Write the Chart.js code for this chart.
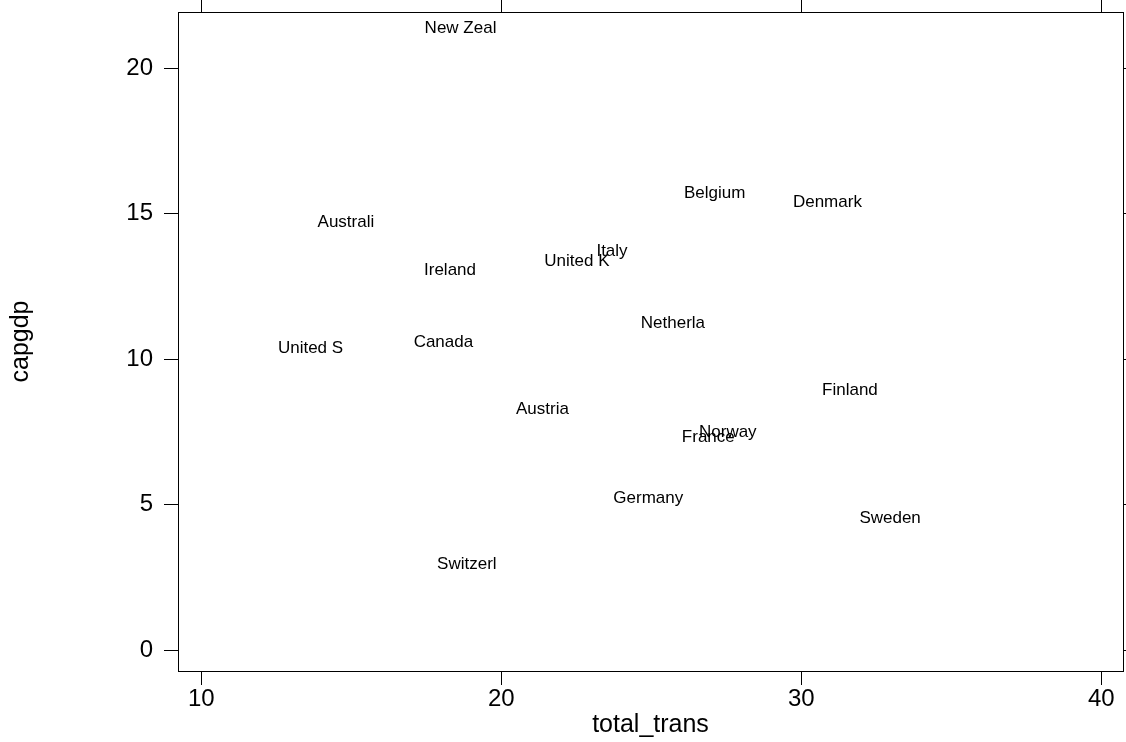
<!DOCTYPE html>
<html>
<head>
<meta charset="utf-8">
<script src="https://cdn.jsdelivr.net/npm/chart.js@4.4.1/dist/chart.umd.min.js"></script>
<style>
  html, body { margin: 0; padding: 0; background: #fff; overflow: hidden; }
  #wrap { width: 1126px; height: 742px; }
</style>
</head>
<body>
<div id="wrap"><canvas id="chart"></canvas></div>
<script>
// countries and their values
const countries = ['New Zeal', 'Australi', 'Ireland', 'United K', 'Italy', 'Belgium', 'Denmark',
  'Netherla', 'United S', 'Canada', 'Finland', 'Austria', 'Norway', 'France', 'Germany', 'Sweden', 'Switzerl'];
const totalTrans = [18.64, 14.82, 18.29, 22.52, 23.69, 27.11, 30.87,
  25.72, 13.64, 18.07, 31.62, 21.37, 27.55, 26.90, 24.90, 32.96, 18.85];
const capgdp = [21.39, 14.72, 13.06, 13.35, 13.70, 15.70, 15.39,
  11.24, 10.38, 10.57, 8.94, 8.26, 7.48, 7.30, 5.23, 4.54, 2.94];
const xTicks = [10, 20, 30, 40];
const yTicks = [0, 5, 10, 15, 20];

const points = countries.map((c, i) => ({ x: totalTrans[i], y: capgdp[i], label: c }));

// draw each country name centred on its point
const textLabels = {
  id: 'textLabels',
  afterDatasetsDraw(chart) {
    const ctx = chart.ctx;
    const xs = chart.scales.x, ys = chart.scales.y;
    ctx.save();
    ctx.font = '17px "Liberation Sans", Arial, sans-serif';
    ctx.fillStyle = '#000';
    ctx.textAlign = 'center';
    ctx.textBaseline = 'middle';
    points.forEach(p => {
      ctx.fillText(p.label, xs.getPixelForValue(p.x), ys.getPixelForValue(p.y));
    });
    ctx.restore();
  }
};

const tickFont = { family: '"Liberation Sans", Arial, sans-serif', size: 24 };
const titleFont = { family: '"Liberation Sans", Arial, sans-serif', size: 25 };
const fixTicks = vals => scale => { scale.ticks = vals.map(v => ({ value: v })); };
// fixed box sizes so the plot frame sits where it does in the picture
const fitH = h => s => { s.height = h; s.paddingLeft = 0; s.paddingRight = 0; };
const fitW = w => s => { s.width = w; s.paddingTop = 0; s.paddingBottom = 0; };

new Chart(document.getElementById('chart'), {
  type: 'scatter',
  data: {
    datasets: [{ data: points, pointRadius: 0, pointHoverRadius: 0 }]
  },
  options: {
    responsive: true,
    maintainAspectRatio: false,
    animation: false,
    events: [],
    layout: { padding: 0 },
    plugins: { legend: { display: false }, tooltip: { enabled: false } },
    scales: {
      x: {
        position: 'bottom',
        min: 9.223, max: 40.723,
        afterBuildTicks: fixTicks(xTicks),
        afterFit: fitH(71),
        grid: { drawOnChartArea: false, color: '#000', tickLength: 14 },
        border: { color: '#000', width: 1 },
        ticks: { color: '#000', font: tickFont, padding: 0, maxRotation: 0 },
        title: { display: true, text: 'total_trans', color: '#000', font: titleFont, padding: 2 }
      },
      x2: {
        position: 'top',
        min: 9.223, max: 40.723,
        afterBuildTicks: fixTicks(xTicks),
        afterFit: fitH(12),
        grid: { drawOnChartArea: false, color: '#000', tickLength: 12 },
        border: { color: '#000', width: 1 },
        ticks: { display: false }
      },
      y: {
        position: 'left',
        min: -0.722, max: 21.936,
        afterBuildTicks: fixTicks(yTicks),
        afterFit: fitW(178),
        grid: { drawOnChartArea: false, color: '#000', tickLength: 14 },
        border: { color: '#000', width: 1 },
        ticks: { color: '#000', font: tickFont, padding: 11 },
        title: { display: true, text: 'capgdp', color: '#000', font: titleFont, padding: 6 }
      },
      y2: {
        position: 'right',
        min: -0.722, max: 21.936,
        afterBuildTicks: fixTicks(yTicks),
        afterFit: fitW(3),
        grid: { drawOnChartArea: false, color: '#000', tickLength: 3 },
        border: { color: '#000', width: 1 },
        ticks: { display: false }
      }
    }
  },
  plugins: [textLabels]
});
</script>
</body>
</html>
